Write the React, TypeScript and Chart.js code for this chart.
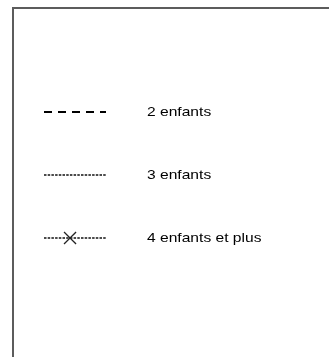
import React, { useEffect, useRef } from "react";
import { Chart, registerables } from "chart.js";

Chart.register(...registerables);

// Legend entries (the whole picture is the legend of a larger chart)
const seriesLabels = ["2 enfants", "3 enfants", "4 enfants et plus"];
// row index of each entry
const seriesRows = [0, 1, 2];
// sample line runs from 0 to 1 on the hidden x scale
const sampleStart = 0;
const sampleEnd = 1;
// position of the cross marker on the "4 enfants et plus" sample
const markerAt = 0.42;

const W = 331;
const H = 357;

const labelPlugin = {
  id: "legendLabels",
  afterDatasetsDraw(chart: any) {
    const ctx = chart.ctx;
    const area = chart.chartArea;
    ctx.save();
    ctx.font = '13px "Liberation Sans", Arial, sans-serif';
    ctx.fillStyle = "#000";
    ctx.textBaseline = "middle";
    ctx.textAlign = "left";
    chart.data.datasets.forEach((ds: any, i: number) => {
      const meta = chart.getDatasetMeta(i);
      const y = meta.data[0].y;
      ctx.save();
      ctx.translate(area.right + 41, y + 0.5);
      ctx.scale(1.2, 1);
      ctx.fillText(ds.label, 0, 0);
      ctx.restore();
    });
    ctx.restore();
  },
};

export default function App() {
  const ref = useRef<HTMLCanvasElement | null>(null);

  useEffect(() => {
    if (!ref.current) return;
    const line = (row: number) => [
      { x: sampleStart, y: row },
      { x: sampleEnd, y: row },
    ];
    const chart = new Chart(ref.current, {
      type: "line",
      data: {
        datasets: [
          {
            label: seriesLabels[0],
            data: line(seriesRows[0]),
            borderColor: "#000",
            borderWidth: 2.2,
            borderDash: [8, 6],
            borderCapStyle: "butt",
            pointRadius: 0,
            clip: false,
          },
          {
            label: seriesLabels[1],
            data: line(seriesRows[1]),
            borderColor: "#111",
            borderWidth: 1.6,
            borderDash: [2.5, 1.2],
            borderCapStyle: "butt",
            pointRadius: 0,
            clip: false,
          },
          {
            label: seriesLabels[2],
            data: [
              { x: sampleStart, y: seriesRows[2] },
              { x: markerAt, y: seriesRows[2] },
              { x: sampleEnd, y: seriesRows[2] },
            ],
            borderColor: "#111",
            borderWidth: 1.6,
            borderDash: [2.5, 1.2],
            borderCapStyle: "butt",
            pointRadius: [0, 8.5, 0],
            pointStyle: "crossRot",
            pointBorderColor: "#222",
            pointBorderWidth: 1.3,
            clip: false,
          },
        ],
      } as any,
      options: {
        responsive: false,
        animation: false,
        events: [],
        devicePixelRatio: 1,
        layout: {
          padding: { left: 44, right: W - 106, top: 112, bottom: H - 238 },
        },
        scales: {
          x: { type: "linear", min: 0, max: 1, display: false },
          y: { type: "linear", min: 0, max: 2, reverse: true, display: false },
        },
        plugins: {
          legend: { display: false },
          tooltip: { enabled: false },
        },
      } as any,
      plugins: [labelPlugin],
    });
    return () => chart.destroy();
  }, []);

  return (
    <div style={{ position: "absolute", left: 0, top: 0, width: W, height: H, background: "#fff" }}>
      <div
        style={{
          position: "absolute",
          left: 12,
          top: 7,
          width: 329 - 12 - 2,
          height: H,
          borderLeft: "2px solid #5c5c5c",
          borderTop: "2px solid #5c5c5c",
        }}
      />
      <canvas
        ref={ref}
        width={W}
        height={H}
        style={{ position: "absolute", left: 0, top: 0, width: W, height: H }}
      />
    </div>
  );
}
